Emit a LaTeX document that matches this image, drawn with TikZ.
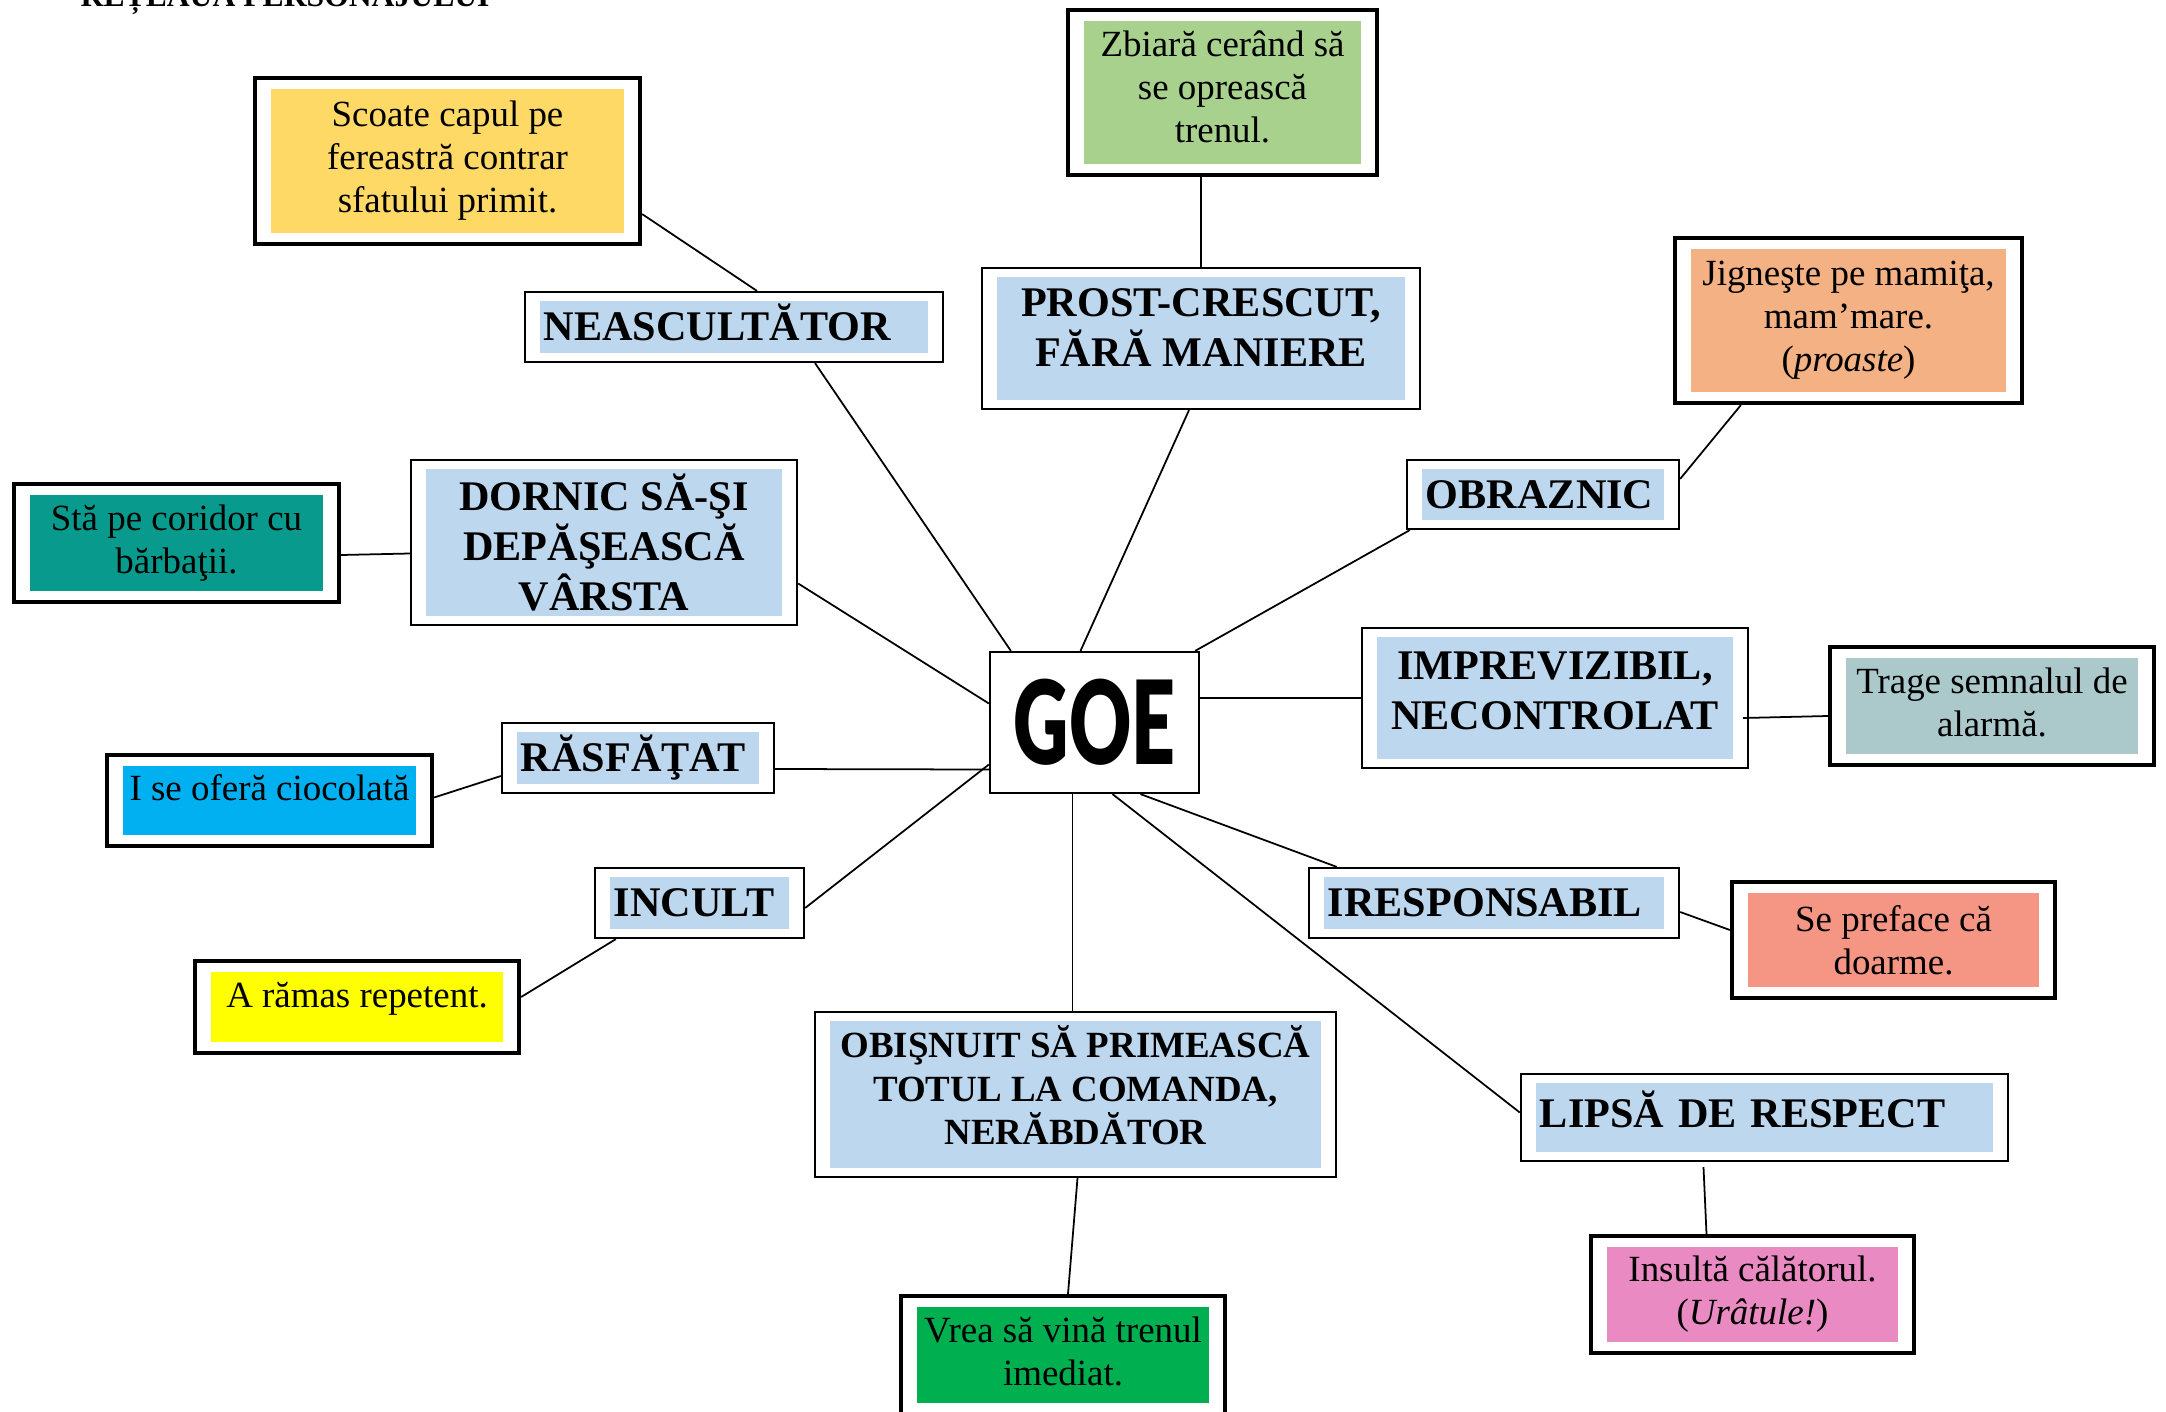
\documentclass[tikz,border=0pt]{standalone}
\usepackage{fontspec}
\setmainfont{Liberation Serif}
\newfontfamily\goefont{Lato Black}

\definecolor{traitblue}{HTML}{BDD7EE}
\definecolor{mossgreen}{HTML}{A9D18E}
\definecolor{sandyellow}{HTML}{FFD966}
\definecolor{peach}{HTML}{F4B183}
\definecolor{deepteal}{HTML}{079A8D}
\definecolor{greyteal}{HTML}{ABC9CB}
\definecolor{skyblue}{HTML}{00B0F0}
\definecolor{lemon}{HTML}{FFFF00}
\definecolor{salmonred}{HTML}{F59685}
\definecolor{rosepink}{HTML}{EA8AC2}
\definecolor{grassgreen}{HTML}{00B050}

\begin{document}
\begin{tikzpicture}[
    x=0.01cm, y=-0.01cm,
    trait/.style={draw, line width=0.6pt, inner sep=0pt, align=center,
        font=\fontsize{12}{14.2}\selectfont\bfseries,
        path picture={\fill[traitblue] ([shift={(15,9.5)}]path picture bounding box.north west)
            rectangle ([shift={(-15,-9.5)}]path picture bounding box.south east);}},
    tag/.style={trait, align=left, inner xsep=0.19cm, text width=#1,
        text height=10.8pt, text depth=2.9pt},
    deed/.style={draw, line width=1.15pt, inner sep=0pt, align=center,
        font=\fontsize{10.5}{12.2}\selectfont,
        path picture={\fill[#1] ([shift={(16.5,11.5)}]path picture bounding box.north west)
            rectangle ([shift={(-16.5,-11.5)}]path picture bounding box.south east);}},
    hero/.style={draw, line width=0.6pt, inner sep=0pt},
    link/.style={line width=0.5pt}
    ]
\useasboundingbox (0,0) rectangle (2166,1412);
\clip (0,0) rectangle (2166,1412);
\fill[white] (0,0) rectangle (2166,1412);

% Title (cut at the top edge)
\node[anchor=base west, inner sep=0pt, font=\fontsize{9}{10}\selectfont\bfseries] (title) at (80,7) {REȚEAUA PERSONAJULUI};

% Centre
\node[hero, minimum width=2.09cm, minimum height=1.41cm] (goe) at (1094.5,722.5)
    {\scalebox{0.66}[1]{\goefont\fontsize{33}{33}\selectfont GOE}};

% Traits
\node[tag=3.80cm, minimum height=0.70cm] (neasc) at (734,327) {NEASCULTĂTOR};
\node[trait, minimum width=4.38cm, minimum height=1.41cm, text depth=0.22cm] (prost) at (1201,338.5) {PROST-CRESCUT,\\ FĂRĂ MANIERE};
\node[tag=2.34cm, minimum height=0.69cm] (obraznic) at (1543,494.5) {OBRAZNIC};
\node[trait, minimum width=3.86cm, minimum height=1.65cm] (dornic) at (604,542.5) {DORNIC SĂ-ŞI\\ DEPĂŞEASCĂ\\ VÂRSTA};
\node[trait, minimum width=3.86cm, minimum height=1.40cm, text depth=0.15cm] (imprev) at (1555,698) {IMPREVIZIBIL,\\ NECONTROLAT};
\node[tag=2.34cm, minimum height=0.70cm] (rasfatat) at (638,758) {RĂSFĂŢAT};
\node[tag=1.71cm, minimum height=0.70cm] (incult) at (699.5,903) {INCULT};
\node[tag=3.32cm, minimum height=0.70cm] (iresp) at (1494,903) {IRESPONSABIL};
\node[trait, minimum width=5.21cm, minimum height=1.65cm, text depth=0.19cm, font=\fontsize{10.5}{12.3}\selectfont\bfseries]
    (obisnuit) at (1075.5,1094.5) {OBIŞNUIT SĂ PRIMEASCĂ\\ TOTUL LA COMANDA,\\ NERĂBDĂTOR};
\node[tag=4.49cm, minimum height=0.87cm, text depth=5.2pt] (lipsa) at (1764.5,1117.5) {LIPSĂ DE RESPECT};

% Deeds
\node[deed=mossgreen, minimum width=3.09cm, minimum height=1.65cm, text depth=0.11cm] (zbiara) at (1222.5,92.5) {Zbiară cerând să\\ se oprească\\ trenul.};
\node[deed=sandyellow, minimum width=3.85cm, minimum height=1.66cm] (scoate) at (447.5,161) {Scoate capul pe\\ fereastră contrar\\ sfatului primit.};
\node[deed=peach, minimum width=3.47cm, minimum height=1.65cm] (jigneste) at (1848.5,320.5) {Jigneşte pe mamiţa,\\ mam’mare.\\ (\textit{proaste})};
\node[deed=deepteal, minimum width=3.25cm, minimum height=1.18cm] (sta) at (176.5,543) {Stă pe coridor cu\\ bărbaţii.};
\node[deed=greyteal, minimum width=3.24cm, minimum height=1.18cm, text depth=0.08cm] (trage) at (1992,706) {Trage semnalul de\\ alarmă.};
\node[deed=skyblue, minimum width=3.25cm, minimum height=0.91cm, text height=0.3cm, text depth=0.3cm] (ciocolata) at (269.5,800.5) {I se oferă ciocolată};
\node[deed=lemon, minimum width=3.24cm, minimum height=0.92cm, text height=0.3cm, text depth=0.3cm] (repetent) at (357,1007) {A rămas repetent.};
\node[deed=salmonred, minimum width=3.23cm, minimum height=1.16cm] (doarme) at (1893.5,940) {Se preface că\\ doarme.};
\node[deed=rosepink, minimum width=3.23cm, minimum height=1.17cm] (insulta) at (1752.5,1294.5) {Insultă călătorul.\\ (\textit{Urâtule!})};
\node[deed=grassgreen, minimum width=3.24cm, minimum height=1.18cm, text depth=0.08cm] (trenul) at (1063,1355) {Vrea să vină trenul\\ imediat.};

% Links from Goe to the traits
\draw[link] ([shift={(22,0)}]goe.north west) -- ([shift={(81,0)}]neasc.south);
\draw[link] ([shift={(-14,0)}]goe.north) -- ([shift={(-12,0)}]prost.south);
\draw[link] ([shift={(-5,0)}]goe.north east) -- ([shift={(4,0)}]obraznic.south west);
\draw[link] ([shift={(0,-19)}]goe.west) -- ([shift={(0,41)}]dornic.east);
\draw[link] (imprev.west -| goe.east) -- (imprev.west);
\draw[link] ([shift={(0,47)}]goe.west) -- ([shift={(0,11)}]rasfatat.east);
\draw[link] ([shift={(0,42)}]goe.west) -- ([shift={(0,5)}]incult.east);
\draw[link] ([shift={(-22,0)}]goe.south) -- ([shift={(-3,0)}]obisnuit.north);
\draw[link] ([shift={(18,0)}]goe.south) -- ([shift={(0,-5)}]lipsa.west);
\draw[link] ([shift={(46,0)}]goe.south) -- ([shift={(29,0)}]iresp.north west);

% Links from the traits to the deeds
\draw[link] ([shift={(0,-32)}]scoate.south east) -- ([shift={(23,0)}]neasc.north);
\draw[link] (prost.north |- zbiara.south) -- (prost.north);
\draw[link] ([shift={(68,0)}]jigneste.south west) -- ([shift={(0,20)}]obraznic.north east);
\draw[link] ([shift={(0,12)}]sta.east) -- ([shift={(0,11)}]dornic.west);
\draw[link] ([shift={(0,10)}]trage.west) -- ([shift={(-6,20)}]imprev.east);
\draw[link] ([shift={(0,-3)}]ciocolata.east) -- ([shift={(0,18)}]rasfatat.west);
\draw[link] ([shift={(0,-10)}]repetent.east) -- ([shift={(22,0)}]incult.south west);
\draw[link] ([shift={(0,-10)}]doarme.west) -- ([shift={(0,9)}]iresp.east);
\draw[link] ([shift={(-46,0)}]insulta.north) -- ([shift={(-61,5)}]lipsa.south);
\draw[link] ([shift={(5,0)}]trenul.north) -- ([shift={(2,0)}]obisnuit.south);

\end{tikzpicture}
\end{document}
